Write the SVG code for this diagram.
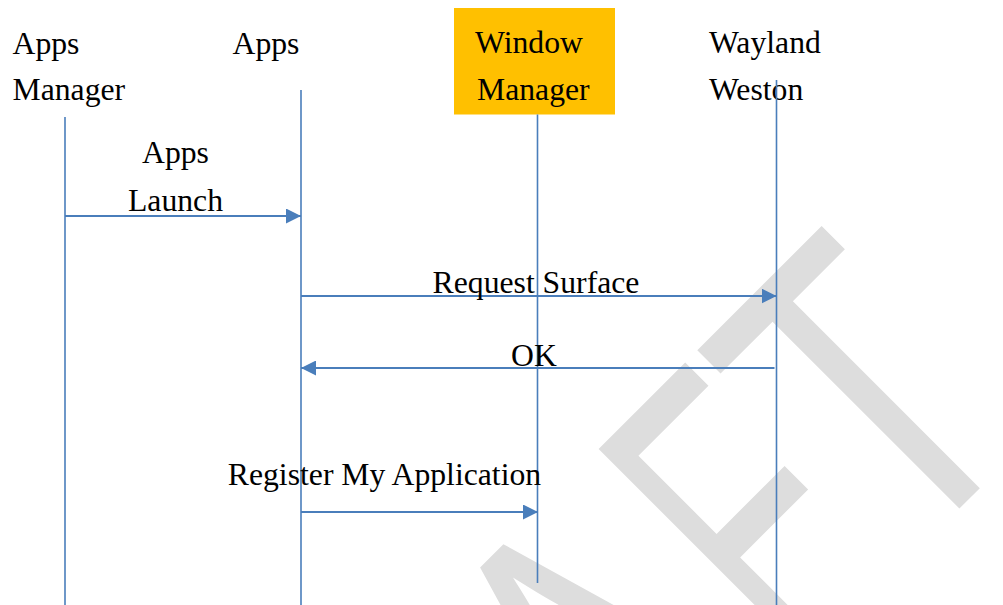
<svg xmlns="http://www.w3.org/2000/svg" width="1003" height="605" viewBox="0 0 1003 605">
  <style>
    .lbl { font-family: "Liberation Serif", "Times New Roman", serif; font-size: 31.7px; fill: #000; }
    .life { stroke: #4a7ebb; stroke-width: 1.6; fill: none; }
    .msg { stroke: #4a7ebb; stroke-width: 2; fill: none; marker-end: url(#ah); }
    .wm { font-family: "Liberation Sans", Arial, sans-serif; font-size: 432px; fill: #dddddd; }
  </style>
  <defs>
    <marker id="ah" markerUnits="userSpaceOnUse" markerWidth="15" markerHeight="15" refX="15" refY="7.5" orient="auto">
      <path d="M0,0 L15,7.5 L0,15 z" fill="#4a7ebb"/>
    </marker>
  </defs>
  <rect x="0" y="0" width="1003" height="605" fill="#ffffff"/>

  <g id="watermark">
    <text class="wm" transform="rotate(-45) scale(0.72,1)" x="-208" y="1038">A</text>
    <text class="wm" transform="rotate(-45) scale(0.58,1)" x="147" y="1038">F</text>
    <text class="wm" transform="rotate(-45) scale(0.72,1)" x="331" y="1038">T</text>
  </g>

  <g id="apps-manager">
    <text class="lbl" x="12.5" y="54">Apps</text>
    <text class="lbl" x="12.5" y="100">Manager</text>
    <line class="life" x1="65" y1="117" x2="65" y2="605"/>
  </g>

  <g id="apps">
    <text class="lbl" x="232.5" y="54">Apps</text>
    <line class="life" x1="301" y1="90" x2="301" y2="605"/>
  </g>

  <g id="window-manager">
    <rect x="454" y="8" width="161" height="106.5" fill="#ffc000"/>
    <text class="lbl" x="475" y="53">Window</text>
    <text class="lbl" x="477" y="100">Manager</text>
    <line class="life" x1="537.5" y1="114.5" x2="537.5" y2="583"/>
  </g>

  <g id="wayland-weston">
    <text class="lbl" x="709" y="53">Wayland</text>
    <text class="lbl" x="709" y="100">Weston</text>
    <line class="life" x1="776.5" y1="80" x2="776.5" y2="605"/>
  </g>

  <g id="connectors">
    <line class="msg" x1="65" y1="216" x2="301" y2="216"/>
    <text class="lbl" x="175.5" y="162.5" text-anchor="middle">Apps</text>
    <text class="lbl" x="175.5" y="211" text-anchor="middle">Launch</text>

    <line class="msg" x1="301" y1="296" x2="776.5" y2="296"/>
    <text class="lbl" x="536" y="292.5" text-anchor="middle">Request Surface</text>

    <line class="msg" x1="774.5" y1="368" x2="301" y2="368"/>
    <text class="lbl" x="534" y="365.5" text-anchor="middle">OK</text>

    <line class="msg" x1="301" y1="512" x2="538" y2="512"/>
    <text class="lbl" x="384.5" y="484.5" text-anchor="middle">Register My Application</text>
  </g>
</svg>
